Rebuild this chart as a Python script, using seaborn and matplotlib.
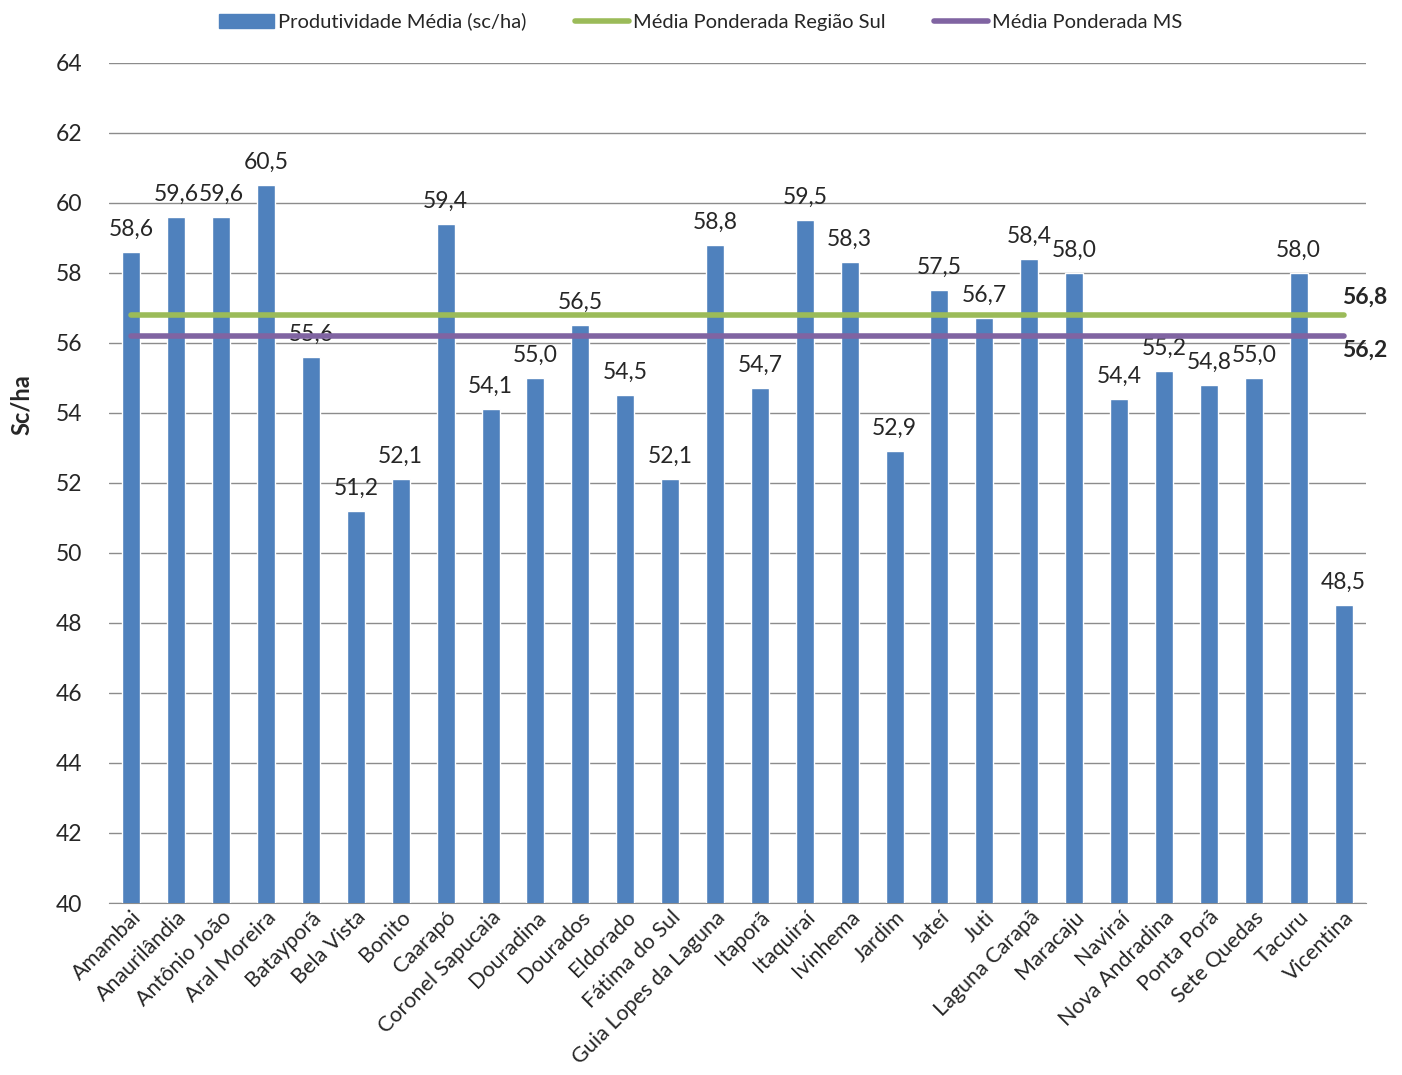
import matplotlib
matplotlib.use("Agg")
import matplotlib.pyplot as plt
import seaborn as sns
import pandas as pd
from matplotlib.patches import Patch
from matplotlib.lines import Line2D

# dados
municipios = ["Amambai", "Anaurilândia", "Antônio João", "Aral Moreira", "Batayporã",
              "Bela Vista", "Bonito", "Caarapó", "Coronel Sapucaia", "Douradina",
              "Dourados", "Eldorado", "Fátima do Sul", "Guia Lopes da Laguna", "Itaporã",
              "Itaquiraí", "Ivinhema", "Jardim", "Jateí", "Juti", "Laguna Carapã",
              "Maracaju", "Naviraí", "Nova Andradina", "Ponta Porã", "Sete Quedas",
              "Tacuru", "Vicentina"]
produtividade = [58.6, 59.6, 59.6, 60.5, 55.6, 51.2, 52.1, 59.4, 54.1, 55.0,
                 56.5, 54.5, 52.1, 58.8, 54.7, 59.5, 58.3, 52.9, 57.5, 56.7,
                 58.4, 58.0, 54.4, 55.2, 54.8, 55.0, 58.0, 48.5]
media_sul = 56.8
media_ms = 56.2

BLUE = "#4F81BD"
GREEN = "#9BBB59"
PURPLE = "#8064A2"

sns.set_style("white")
plt.rcParams["font.family"] = ["Lato", "DejaVu Sans"]

df = pd.DataFrame({"municipio": municipios, "prod": produtividade})

fig = plt.figure(figsize=(14.02, 10.75), dpi=100)
ax = fig.add_axes([0.0777, 0.160, 0.8966, 0.7814])

sns.barplot(data=df, x="municipio", y="prod", color=BLUE, saturation=1,
            width=0.4, ax=ax, zorder=3)

n = len(municipios)
ax.plot(range(n), [media_sul] * n, color=GREEN, lw=4, solid_capstyle="round", zorder=4)
ax.plot(range(n), [media_ms] * n, color=PURPLE, lw=4, solid_capstyle="round", zorder=4)

# rótulos das barras
for i, v in enumerate(produtividade):
    ax.annotate(f"{v:.1f}".replace(".", ","), (i, v), xytext=(0, 9),
                textcoords="offset points", ha="center", va="bottom", fontsize=16.5)

ax.annotate(f"{media_sul:.1f}".replace(".", ","), (n - 0.03, media_sul), xytext=(0, 5),
            textcoords="offset points", ha="right", va="bottom", fontsize=16.5,
            fontweight="bold", annotation_clip=False)
ax.annotate(f"{media_ms:.1f}".replace(".", ","), (n - 0.03, media_ms), xytext=(0, -3),
            textcoords="offset points", ha="right", va="top", fontsize=16.5,
            fontweight="bold", annotation_clip=False)

ax.set_ylim(40, 64)
ax.set_yticks(range(40, 65, 2))
ax.set_xlim(-0.5, n - 0.5)
ax.yaxis.grid(True, color="#8C8C8C", lw=1)
ax.set_axisbelow(True)
for s in ["top", "right", "left"]:
    ax.spines[s].set_visible(False)
ax.spines["bottom"].set_color("#8C8C8C")
ax.tick_params(axis="y", labelsize=16.5, length=0, pad=19)
ax.tick_params(axis="x", labelsize=15.5, length=0, pad=3)
plt.setp(ax.get_xticklabels(), rotation=45, ha="right", rotation_mode="anchor")
ax.set_xlabel("")
ax.set_ylabel("Sc/ha", fontsize=17, fontweight="bold")
ax.yaxis.set_label_coords(-0.0605, 0.593)

handles = [Patch(color=BLUE, label="Produtividade Média (sc/ha)"),
           Line2D([], [], color=GREEN, lw=4, label="Média Ponderada Região Sul"),
           Line2D([], [], color=PURPLE, lw=4, label="Média Ponderada MS")]
fig.legend(handles=handles, loc="upper center", bbox_to_anchor=(0.5, 1.005), ncol=3,
           frameon=False, fontsize=14.5, handlelength=2.7, handletextpad=0.2,
           columnspacing=2.4)

fig.savefig("out.png", dpi=100)
